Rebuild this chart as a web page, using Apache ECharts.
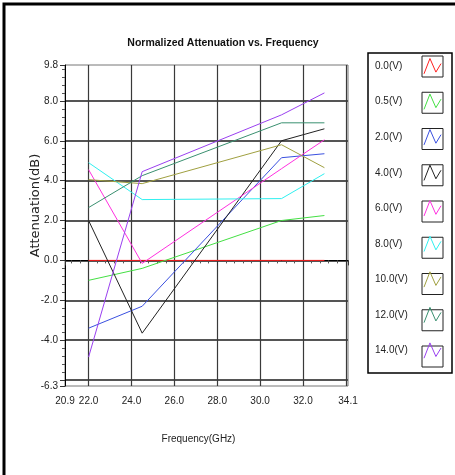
<!DOCTYPE html>
<html>
<head>
<meta charset="utf-8">
<script src="https://cdn.jsdelivr.net/npm/echarts@6/dist/echarts.min.js"></script>
<style>
  html, body { margin: 0; padding: 0; background: #fff; }
  #chart { width: 455px; height: 475px; }
</style>
</head>
<body>
<div id="chart"></div>
<script>
  // frequency points (GHz)
  let freqs = [22.0, 24.5, 31.0, 33.0];
  let voltages = ['0.0(V)', '0.5(V)', '2.0(V)', '4.0(V)', '6.0(V)', '8.0(V)', '10.0(V)', '12.0(V)', '14.0(V)'];
  let att00 = [0, 0, 0, 0];
  let att05 = [-1.0, -0.4, 2.0, 2.25];
  let att20 = [-3.4, -2.3, 5.15, 5.35];
  let att40 = [2.0, -3.65, 6.0, 6.6];
  let att60 = [4.55, -0.15, 4.6, 6.05];
  let att80 = [4.9, 3.05, 3.1, 4.35];
  let att100 = [4.05, 3.85, 5.8, 4.65];
  let att120 = [2.65, 4.25, 6.9, 6.9];
  let att140 = [-4.85, 4.45, 7.3, 8.4];

  let allData = [att00, att05, att20, att40, att60, att80, att100, att120, att140];
  let color = ['#ff2020', '#44e044', '#3a50e0', '#222222', '#ff30e0', '#30f0f0', '#a0a040', '#3a9070', '#9a40f0'];

  let font = "'Liberation Sans', Arial, sans-serif";
  let chart = echarts.init(document.getElementById('chart'));

  let series = [];
  let legendData = [];
  for (let i = 0; i < allData.length; i++) {
    series.push({
      name: voltages[i],
      type: 'line',
      symbol: 'none',
      data: freqs.map(function (f, k) { return [f, allData[i][k]]; }),
      lineStyle: { width: 1, color: color[i] },
      itemStyle: { color: color[i] }
    });
    legendData.push({
      name: voltages[i],
      itemStyle: { color: 'transparent', borderColor: color[i], borderWidth: 1 }
    });
  }

  // outer frame, legend frame and the small boxes round the legend icons
  let graphics = [
    { type: 'rect', shape: { x: 4, y: 4, width: 480, height: 490 }, style: { fill: 'none', stroke: '#000', lineWidth: 3 } },
    { type: 'rect', shape: { x: 368, y: 53, width: 84, height: 320 }, style: { fill: 'none', stroke: '#000', lineWidth: 1.5 } }
  ];
  for (let i = 0; i < voltages.length; i++) {
    graphics.push({
      type: 'rect',
      shape: { x: 422, y: 56 + i * 36.25, width: 21, height: 21 },
      style: { fill: 'none', stroke: '#222', lineWidth: 1 }
    });
  }

  let option = {
    animation: false,
    backgroundColor: '#fff',
    title: {
      text: 'Normalized Attenuation vs. Frequency',
      left: 218,
      textAlign: 'center',
      top: 33,
      textStyle: { fontSize: 10.5, fontWeight: 'bold', color: '#111', fontFamily: font }
    },
    legend: {
      orient: 'vertical',
      left: 375,
      top: 58,
      padding: 0,
      align: 'right',
      itemWidth: 17,
      itemHeight: 17,
      itemGap: 19.25,
      icon: 'path://M0,20 L7,2 L14,18 L20,8',
      data: legendData,
      formatter: function (name) { return '{a|' + name + '}'; },
      textStyle: {
        fontSize: 10, color: '#222', fontFamily: font,
        rich: { a: { width: 44, align: 'left', fontSize: 10, color: '#222', fontFamily: font } }
      }
    },
    grid: {
      left: 65, right: 107, top: 65, bottom: 89,
      show: true, borderColor: '#777', borderWidth: 1
    },
    xAxis: {
      type: 'value',
      min: 20.9,
      max: 34.1,
      splitNumber: 7,
      name: 'Frequency(GHz)',
      nameLocation: 'middle',
      nameGap: 48,
      nameMoveOverlap: false,
      nameTextStyle: { fontSize: 10, color: '#222', fontFamily: font, padding: [0, 16, 0, 0] },
      axisLine: { lineStyle: { color: '#000', width: 1 } },
      axisTick: { length: 5, lineStyle: { color: '#333' } },
      minorTick: { show: true, splitNumber: 5, length: 3, lineStyle: { color: '#555' } },
      axisLabel: {
        fontSize: 10, color: '#222', fontFamily: font, margin: 10,
        showMinLabel: true, showMaxLabel: true,
        formatter: function (v) { return Math.abs(v - 34) < 1e-6 ? '' : v.toFixed(1); }
      },
      splitLine: { show: true, showMinLine: false, showMaxLine: false, lineStyle: { color: '#3a3a3a', width: 1.2 } }
    },
    yAxis: {
      type: 'value',
      min: -6.3,
      max: 9.8,
      splitNumber: 8,
      name: 'Attenuation(dB)',
      nameLocation: 'middle',
      nameGap: 23,
      nameMoveOverlap: false,
      nameTextStyle: { fontSize: 13, color: '#222', fontFamily: "'DejaVu Sans', sans-serif", padding: [0, 0, 0, 40] },
      axisLine: { show: true, lineStyle: { color: '#000', width: 1 } },
      axisTick: { show: true, length: 5, lineStyle: { color: '#333' } },
      minorTick: { show: true, splitNumber: 5, length: 3, lineStyle: { color: '#555' } },
      axisLabel: {
        fontSize: 10, color: '#222', fontFamily: font, margin: 7,
        showMinLabel: true, showMaxLabel: true,
        formatter: function (v) { return Math.abs(v + 6) < 1e-6 ? '' : v.toFixed(1); }
      },
      splitLine: { show: true, showMinLine: false, showMaxLine: false, lineStyle: { color: '#555', width: 2 } }
    },
    graphic: graphics,
    series: series
  };

  chart.setOption(option);
</script>
</body>
</html>
